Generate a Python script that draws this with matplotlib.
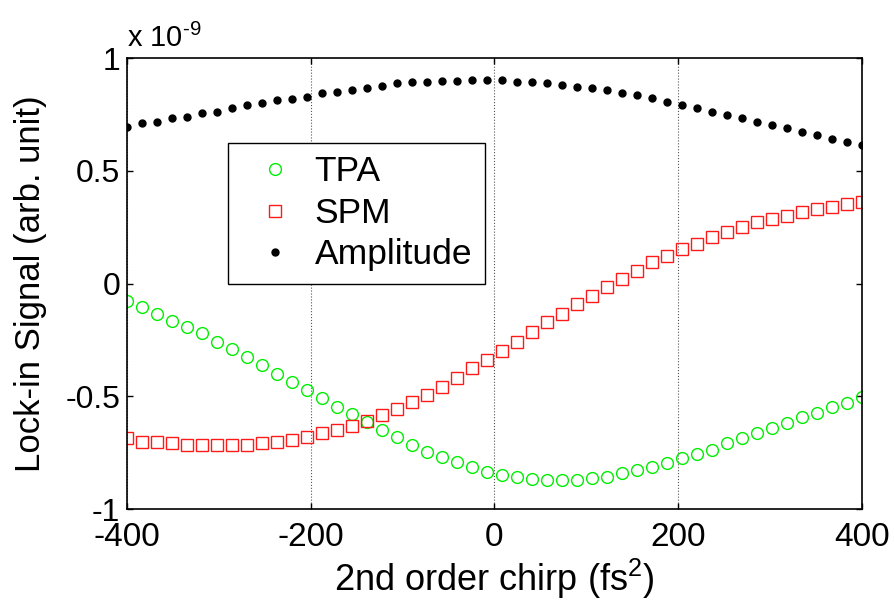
import numpy as np
import matplotlib
matplotlib.use("Agg")
import matplotlib.pyplot as plt

plt.rcParams['font.family'] = ['Liberation Sans', 'DejaVu Sans']
plt.rcParams['mathtext.fontset'] = 'custom'
plt.rcParams['mathtext.rm'] = 'Liberation Sans'
plt.rcParams['mathtext.it'] = 'Liberation Sans'

# chirp values (fs^2), 50 points
chirp = np.linspace(-400, 400, 50)

# signals in units of 1e-9
tpa = [-0.076, -0.106, -0.135, -0.165, -0.194, -0.221, -0.258, -0.290, -0.327, -0.361,
       -0.401, -0.435, -0.472, -0.509, -0.546, -0.579, -0.613, -0.650, -0.679, -0.716,
       -0.746, -0.771, -0.793, -0.815, -0.837, -0.849, -0.857, -0.867, -0.871, -0.871,
       -0.871, -0.864, -0.857, -0.842, -0.827, -0.812, -0.797, -0.775, -0.758, -0.738,
       -0.709, -0.686, -0.664, -0.642, -0.620, -0.591, -0.573, -0.546, -0.529, -0.502]
spm = [-0.687, -0.701, -0.701, -0.709, -0.716, -0.716, -0.716, -0.716, -0.716, -0.709,
       -0.701, -0.694, -0.679, -0.664, -0.650, -0.630, -0.608, -0.583, -0.557, -0.527,
       -0.494, -0.458, -0.420, -0.376, -0.339, -0.297, -0.261, -0.217, -0.172, -0.134,
       -0.091, -0.054, -0.017, 0.018, 0.057, 0.094, 0.123, 0.153, 0.175, 0.205,
       0.227, 0.249, 0.271, 0.286, 0.301, 0.316, 0.330, 0.338, 0.353, 0.360]
amplitude = [0.695, 0.710, 0.718, 0.732, 0.740, 0.757, 0.762, 0.777, 0.792, 0.799,
             0.814, 0.818, 0.829, 0.843, 0.851, 0.858, 0.868, 0.876, 0.888, 0.892,
             0.895, 0.899, 0.899, 0.902, 0.902, 0.902, 0.895, 0.895, 0.888, 0.880,
             0.873, 0.866, 0.858, 0.843, 0.836, 0.821, 0.806, 0.792, 0.777, 0.762,
             0.747, 0.732, 0.718, 0.703, 0.688, 0.673, 0.659, 0.643, 0.628, 0.614]

xticks = [-400, -200, 0, 200, 400]
yticks = [-1, -0.5, 0, 0.5, 1]
ytick_labels = ['-1', '-0.5', '0', '0.5', '1']

fig = plt.figure(figsize=(8.95, 6.07), dpi=100)
ax = fig.add_axes([0.142, 0.1614, 0.821, 0.743])

ax.plot(chirp, tpa, linestyle='none', marker='o', markersize=8.5, markerfacecolor='none',
        markeredgecolor='#00ee00', markeredgewidth=1.0, label='TPA')
ax.plot(chirp, spm, linestyle='none', marker='s', markersize=9, markerfacecolor='none',
        markeredgecolor='#ff1a1a', markeredgewidth=1.0, label='SPM')
ax.plot(chirp, amplitude, linestyle='none', marker='o', markersize=5, color='black',
        label='Amplitude')

ax.set_xlim(-400, 400)
ax.set_ylim(-1, 1)
ax.set_xticks(xticks)
ax.set_xticklabels([str(v) for v in xticks])
ax.set_yticks(yticks)
ax.set_yticklabels(ytick_labels)
ax.tick_params(direction='in', top=True, right=True, length=4, width=1)
ax.tick_params(axis='x', labelsize=24, pad=9)
ax.tick_params(axis='y', labelsize=23, pad=5)
ax.xaxis.grid(True, linestyle=':', color='#555555', linewidth=0.8)
for s in ax.spines.values():
    s.set_linewidth(1.2)

ax.set_xlabel('2nd order chirp (fs$^2$)', fontsize=26, labelpad=3)
ax.set_ylabel('Lock-in Signal (arb. unit)', fontsize=25, labelpad=13)
ax.text(0.0, 1.012, r'x 10$^{\mathrm{\text{-}9}}$', transform=ax.transAxes, fontsize=21,
        ha='left', va='bottom')

leg = ax.legend(loc='upper left', bbox_to_anchor=(0.137, 0.8115), fontsize=25.5, frameon=True,
                fancybox=False, edgecolor='black', framealpha=1, borderpad=0.35,
                labelspacing=0.24, handletextpad=0.15, handlelength=1.95, borderaxespad=0)
leg.get_frame().set_linewidth(1.0)

fig.savefig('out.png', dpi=100)
